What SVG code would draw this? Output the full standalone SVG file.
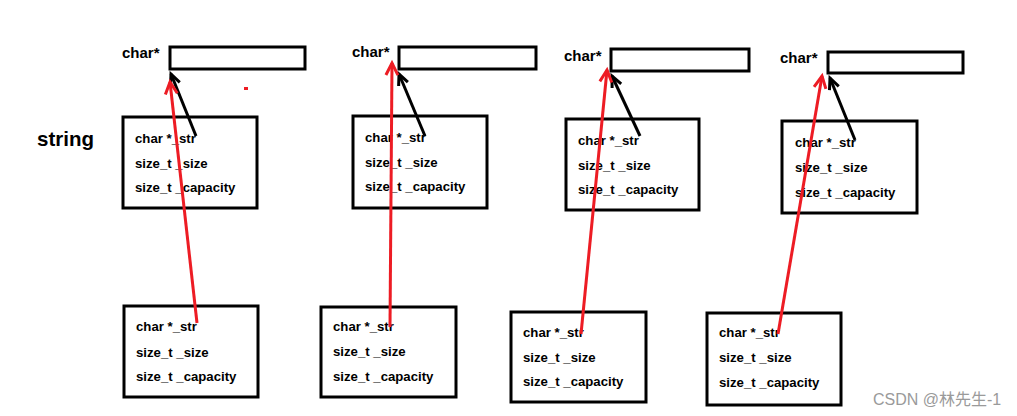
<svg xmlns="http://www.w3.org/2000/svg" width="1017" height="416" viewBox="0 0 1017 416">
<style>
.bx{fill:#fff;stroke:#000;stroke-width:3}
.t{font-family:"Liberation Sans",Arial,sans-serif;font-weight:bold;font-size:13.2px;fill:#000}
.lb{font-family:"Liberation Sans",Arial,sans-serif;font-weight:bold;font-size:15px;fill:#000}
.red{stroke:#ed1c24;stroke-width:3;fill:none}
.blk{stroke:#000;stroke-width:3;fill:none}
</style>
<defs>
<marker id="ar" markerUnits="userSpaceOnUse" markerWidth="30" markerHeight="30" viewBox="-15 -15 30 30" refX="0" refY="0" orient="auto">
<path d="M-12,-6 L0,0 L-12,6" fill="none" stroke="#ed1c24" stroke-width="3"/>
</marker>
<marker id="ab" markerUnits="userSpaceOnUse" markerWidth="30" markerHeight="30" viewBox="-15 -15 30 30" refX="0" refY="0" orient="auto">
<path d="M-11,-5 L0,0 L-11,5" fill="none" stroke="#000" stroke-width="3"/>
</marker>
</defs>
<rect width="1017" height="416" fill="#fff"/>
<text x="37" y="146" font-family="Liberation Sans,Arial,sans-serif" font-weight="bold" font-size="20.5px">string</text>
<rect x="244" y="87" width="4" height="3" fill="#ed1c24"/>

<g id="g1">
<text class="lb" x="122" y="58">char*</text>
<rect class="bx" x="170" y="47" width="135" height="22"/>
</g>
<g id="u1">
<rect class="bx" x="123" y="117" width="134" height="91"/>
<text class="t" x="135" y="143">char *_str</text>
<text class="t" x="135" y="168">size_t _size</text>
<text class="t" x="135" y="192">size_t _capacity</text>
</g>
<g id="b1">
<rect class="bx" x="124" y="306" width="134" height="91"/>
<text class="t" x="136" y="331">char *_str</text>
<text class="t" x="136" y="357">size_t _size</text>
<text class="t" x="136" y="381">size_t _capacity</text>
</g>

<g id="g2">
<text class="lb" x="352" y="57">char*</text>
<rect class="bx" x="399" y="47" width="137" height="22"/>
</g>
<g id="u2">
<rect class="bx" x="353" y="116" width="134" height="92"/>
<text class="t" x="365" y="142">char *_str</text>
<text class="t" x="365" y="167">size_t _size</text>
<text class="t" x="365" y="191">size_t _capacity</text>
</g>
<g id="b2">
<rect class="bx" x="321" y="307" width="135" height="90"/>
<text class="t" x="333" y="331">char *_str</text>
<text class="t" x="333" y="356">size_t _size</text>
<text class="t" x="333" y="381">size_t _capacity</text>
</g>

<g id="g3">
<text class="lb" x="564" y="61">char*</text>
<rect class="bx" x="611" y="49" width="138" height="22"/>
</g>
<g id="u3">
<rect class="bx" x="566" y="119" width="133" height="91"/>
<text class="t" x="578" y="145">char *_str</text>
<text class="t" x="578" y="170">size_t _size</text>
<text class="t" x="578" y="194">size_t _capacity</text>
</g>
<g id="b3">
<rect class="bx" x="511" y="312" width="135" height="90"/>
<text class="t" x="523" y="337">char *_str</text>
<text class="t" x="523" y="362">size_t _size</text>
<text class="t" x="523" y="386">size_t _capacity</text>
</g>

<g id="g4">
<text class="lb" x="780" y="63">char*</text>
<rect class="bx" x="828" y="52" width="135" height="21"/>
</g>
<g id="u4">
<rect class="bx" x="782" y="121" width="135" height="92"/>
<text class="t" x="795" y="147">char *_str</text>
<text class="t" x="795" y="172">size_t _size</text>
<text class="t" x="795" y="197">size_t _capacity</text>
</g>
<g id="b4">
<rect class="bx" x="707" y="313" width="134" height="92"/>
<text class="t" x="719" y="337">char *_str</text>
<text class="t" x="719" y="362">size_t _size</text>
<text class="t" x="719" y="387">size_t _capacity</text>
</g>

<g id="connectors">
<line class="blk" x1="196" y1="136" x2="171" y2="74" marker-end="url(#ab)"/>
<line class="red" x1="197" y1="323" x2="170" y2="82" marker-end="url(#ar)"/>
<line class="blk" x1="425" y1="136" x2="399" y2="74" marker-end="url(#ab)"/>
<line class="red" x1="390" y1="327" x2="392" y2="63" marker-end="url(#ar)"/>
<line class="blk" x1="640" y1="136" x2="612" y2="76" marker-end="url(#ab)"/>
<line class="red" x1="581" y1="334" x2="607" y2="70" marker-end="url(#ar)"/>
<line class="blk" x1="855" y1="140" x2="830" y2="78" marker-end="url(#ab)"/>
<line class="red" x1="778" y1="334" x2="822" y2="76" marker-end="url(#ar)"/>
</g>

<text x="873" y="405" font-family="Liberation Sans,'Noto Sans CJK SC',sans-serif" font-size="16px" fill="#9a9a9a">CSDN @林先生-1</text>
</svg>
